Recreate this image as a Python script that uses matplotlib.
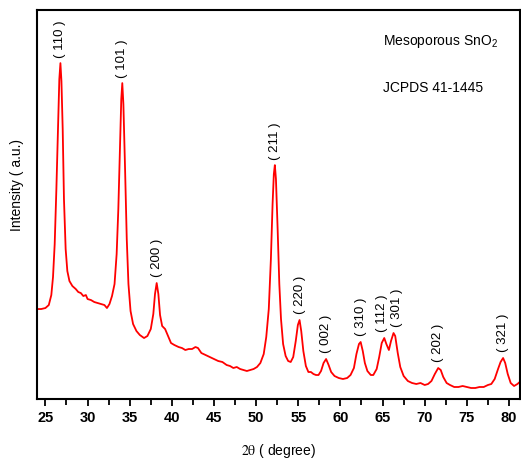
import matplotlib
matplotlib.use('Agg')
import matplotlib.pyplot as plt
import numpy as np

plt.rcParams['font.family'] = ['Liberation Sans', 'DejaVu Sans']
plt.rcParams['mathtext.fontset'] = 'custom'
plt.rcParams['mathtext.rm'] = 'Liberation Sans'

# XRD pattern (2theta in degrees, intensity in a.u.)
two_theta = [24.0, 24.5, 25.0, 25.4, 25.7, 25.9, 26.1, 26.3, 26.5, 26.65, 26.78, 26.9,
             27.05, 27.2, 27.4, 27.6, 27.85, 28.2, 28.6, 28.9, 29.2, 29.5, 29.8, 30.0,
             30.4, 30.8, 31.2, 31.6, 32.0, 32.3, 32.6, 32.9, 33.2, 33.45, 33.65, 33.85,
             34.0, 34.12, 34.25, 34.45, 34.65, 34.85, 35.1, 35.4, 35.8, 36.2, 36.7, 37.1,
             37.5, 37.8, 38.0, 38.2, 38.4, 38.6, 38.85, 39.2, 39.5, 39.9, 40.3, 40.8,
             41.2, 41.6, 42.0, 42.4, 42.8, 43.1, 43.5, 44.0, 44.5, 45.0, 45.5, 46.0,
             46.5, 46.9, 47.3, 47.7, 48.1, 48.5, 48.9, 49.3, 49.7, 50.1, 50.5, 50.9,
             51.2, 51.5, 51.75, 51.95, 52.1, 52.22, 52.35, 52.55, 52.75, 52.95, 53.2, 53.5,
             53.8, 54.1, 54.4, 54.7, 54.95, 55.15, 55.35, 55.6, 55.9, 56.2, 56.5, 56.8,
             57.1, 57.4, 57.7, 58.0, 58.3, 58.6, 58.9, 59.3, 59.8, 60.3, 60.8, 61.2,
             61.6, 61.9, 62.2, 62.4, 62.65, 62.9, 63.2, 63.6, 63.9, 64.3, 64.6, 64.9,
             65.2, 65.45, 65.75, 66.0, 66.3, 66.5, 66.8, 67.1, 67.5, 68.0, 68.5, 69.0,
             69.5, 70.0, 70.4, 70.8, 71.2, 71.6, 71.9, 72.2, 72.6, 73.0, 73.5, 74.0,
             74.5, 75.0, 75.5, 76.0, 76.5, 77.0, 77.5, 77.9, 78.3, 78.7, 79.0, 79.3,
             79.55, 79.85, 80.2, 80.6, 81.0, 81.4]
intensity = [90, 90, 91, 94, 104, 122, 155, 210, 275, 320, 336, 318,
             270, 200, 150, 128, 118, 113, 110, 107, 106, 103, 104, 100,
             99, 97, 96, 95, 94, 91, 95, 103, 115, 145, 190, 255,
             300, 316, 295, 230, 160, 115, 88, 75, 68, 64, 61, 63,
             70, 85, 105, 116, 105, 84, 73, 70, 64, 56, 54, 52,
             51, 49, 50, 50, 52, 51, 46, 44, 42, 40, 38, 37,
             34, 33, 31, 32, 30, 29, 28, 29, 30, 32, 36, 45,
             62, 90, 140, 195, 225, 234, 220, 170, 115, 80, 55, 43,
             38, 37, 42, 58, 74, 79, 68, 48, 33, 27, 27, 25,
             24, 24, 28, 36, 40, 34, 27, 23, 21, 20, 21, 24,
             31, 45, 55, 57, 48, 36, 28, 24, 24, 30, 42, 56,
             61, 55, 49, 58, 66, 63, 46, 32, 23, 18, 16, 15,
             16, 14, 15, 18, 25, 31, 29, 22, 16, 14, 12, 12,
             13, 12, 11, 11, 12, 12, 14, 15, 20, 30, 37, 41,
             36, 25, 16, 13, 15, 18]

# reflections and where their labels sit
peak_pos = [26.78, 34.12, 38.2, 52.22, 55.15, 58.3, 62.4, 65.2, 66.3, 71.6, 79.3]
peak_labels = ['( 110 )', '( 101 )', '( 200 )', '( 211 )', '( 220 )', '( 002 )',
               '( 310 )', '( 112 )', '( 301 )', '( 202 )', '( 321 )']
label_dx = [0, 0, 0, 0, 0, 0, 0, -1.5, 2.5, 0, 0]

fig = plt.figure(figsize=(5.21, 4.61), dpi=100)
ax = fig.add_axes([0.071, 0.1345, 0.927, 0.8435])

ax.plot(two_theta, intensity, color='#ff0000', linewidth=1.3)

for pos, lab, dx in zip(peak_pos, peak_labels, label_dx):
    h = np.interp(pos, two_theta, intensity)
    ax.annotate(lab, xy=(pos, h), xytext=(dx, 4), textcoords='offset points',
                rotation=90, ha='center', va='bottom', fontsize=9.5)

ax.text(0.716, 0.92, 'Mesoporous SnO$_2$', transform=ax.transAxes, fontsize=10,
        ha='left', va='center')
ax.text(0.716, 0.80, 'JCPDS 41-1445', transform=ax.transAxes, fontsize=10,
        ha='left', va='center')

ax.set_xlim(24, 81.3)
ax.set_ylim(0, 389)
ax.set_xticks(np.arange(25, 81, 5))
ax.set_xticks(np.arange(27.5, 81, 5), minor=True)
ax.set_yticks([])
ax.tick_params(axis='x', which='major', direction='out', length=5, width=1.3,
               labelsize=10.5, pad=4)
ax.tick_params(axis='x', which='minor', direction='out', length=4, width=1.3)
for lab in ax.get_xticklabels():
    lab.set_fontweight('bold')
for sp in ax.spines.values():
    sp.set_linewidth(1.5)
    sp.set_color('black')

ax.set_xlabel(r'$\mathrm{2\theta}$ ( degree)', fontsize=10, labelpad=12,
              math_fontfamily='stix')
ax.set_ylabel('Intensity ( a.u.)', fontsize=10)
ax.yaxis.set_label_coords(-0.027, 0.55)

plt.savefig('out.png', dpi=100)
plt.close()
